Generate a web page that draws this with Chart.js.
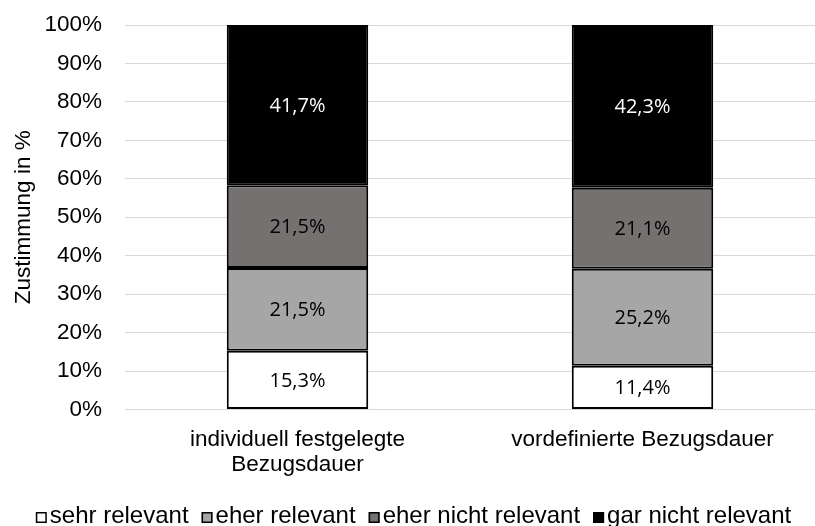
<!DOCTYPE html>
<html>
<head>
<meta charset="utf-8">
<script src="https://cdn.jsdelivr.net/npm/chart.js@4/dist/chart.umd.min.js"></script>
<style>
  html, body { margin: 0; padding: 0; background: #fff; }
  #wrap { width: 815px; height: 526px; }
</style>
</head>
<body>
<div id="wrap"><canvas id="myChart"></canvas></div>
<script>
// categories and series (percent)
const categories = [['individuell festgelegte', 'Bezugsdauer'], 'vordefinierte Bezugsdauer'];
const seriesNames = ['sehr relevant', 'eher relevant', 'eher nicht relevant', 'gar nicht relevant'];
const sehrRelevant = [15.3, 11.4];
const eherRelevant = [21.5, 25.2];
const eherNichtRelevant = [21.5, 21.1];
const garNichtRelevant = [41.7, 42.3];
const yTicks = [0, 10, 20, 30, 40, 50, 60, 70, 80, 90, 100];

const fills = ['#ffffff', '#a6a6a6', '#767171', '#000000'];
const labelColors = ['#000000', '#000000', '#000000', '#ffffff'];
const seriesData = [sehrRelevant, eherRelevant, eherNichtRelevant, garNichtRelevant];
const arial = '"Liberation Sans", Arial, sans-serif';

// draws the value inside each bar segment
const valueLabels = {
  id: 'valueLabels',
  afterDatasetsDraw(chart) {
    const ctx = chart.ctx;
    ctx.save();
    ctx.font = '20px "Open Sans", sans-serif';
    ctx.textAlign = 'center';
    ctx.textBaseline = 'middle';
    chart.data.datasets.forEach((ds, i) => {
      const meta = chart.getDatasetMeta(i);
      meta.data.forEach((bar, j) => {
        const p = bar.getProps(['x', 'y', 'base'], true);
        ctx.fillStyle = labelColors[i];
        ctx.fillText(ds.data[j].toFixed(1).replace('.', ',') + '%', p.x, (p.y + p.base) / 2 + 1);
      });
    });
    ctx.restore();
  }
};

// compact legend like the office one: small box right against the text
const bottomLegend = {
  id: 'bottomLegend',
  afterDraw(chart) {
    const ctx = chart.ctx;
    const box = 11, gap = 3, itemGap = 13;
    ctx.save();
    ctx.font = '24px ' + arial;
    ctx.textBaseline = 'alphabetic';
    const widths = seriesNames.map(n => ctx.measureText(n).width);
    const total = widths.reduce((a, w) => a + box + gap + w, 0) + itemGap * (seriesNames.length - 1);
    let x = chart.width / 2 - total / 2 + 6;
    const baseY = 523;
    seriesNames.forEach((name, i) => {
      ctx.fillStyle = fills[i];
      ctx.fillRect(x, baseY - box, box, box);
      ctx.strokeStyle = '#000';
      ctx.lineWidth = 1.5;
      ctx.strokeRect(x + 0.75, baseY - box + 0.75, box - 1.5, box - 1.5);
      ctx.fillStyle = '#000';
      ctx.fillText(name, x + box + gap, baseY);
      x += box + gap + widths[i] + itemGap;
    });
    ctx.restore();
  }
};

new Chart(document.getElementById('myChart'), {
  type: 'bar',
  data: {
    labels: categories,
    datasets: seriesNames.map((name, i) => ({
      label: name,
      data: seriesData[i],
      backgroundColor: fills[i],
      borderColor: '#000000',
      borderWidth: 2,
      borderSkipped: false,
      categoryPercentage: 1,
      barPercentage: 0.41
    }))
  },
  options: {
    responsive: true,
    maintainAspectRatio: false,
    animation: false,
    layout: { padding: { left: 0, right: 0, top: 25, bottom: 39 } },
    plugins: {
      tooltip: { enabled: false },
      legend: { display: false }
    },
    scales: {
      x: {
        stacked: true,
        grid: { display: false },
        border: { color: '#d9d9d9', width: 1 },
        ticks: {
          color: '#000',
          font: { family: arial, size: 22.5, lineHeight: 1.1 },
          maxRotation: 0,
          padding: 10
        }
      },
      y: {
        stacked: true,
        min: 0,
        max: 100,
        afterBuildTicks(axis) { axis.ticks = yTicks.map(v => ({ value: v })); },
        afterFit(axis) {
          axis.width = 125;
          axis.paddingTop = 0;
          axis.paddingBottom = 0;
        },
        grid: { color: '#d9d9d9', lineWidth: 1, drawTicks: false },
        border: { display: false },
        ticks: {
          color: '#000',
          font: { family: arial, size: 22.5 },
          padding: 23,
          callback: v => v + '%'
        },
        title: {
          display: true,
          text: 'Zustimmung in %',
          color: '#000',
          font: { family: arial, size: 22.5 },
          padding: { top: 10, bottom: 0 }
        }
      }
    }
  },
  plugins: [valueLabels, bottomLegend]
});
</script>
</body>
</html>
